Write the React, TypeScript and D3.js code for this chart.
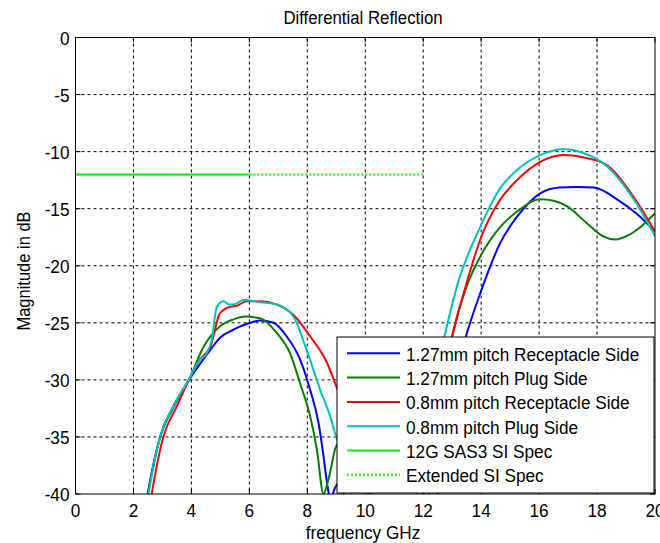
import React from "react";
import * as d3 from "d3";

// [frequency GHz, magnitude dB]
const blueRecep127: [number, number][] = [
  [2.3, -43], [2.49, -40], [2.92, -35], [3.4, -32.3], [3.95, -29.9], [4.53, -27.8], [4.99, -26.3],
  [5.45, -25.6], [6.03, -25.0], [6.37, -24.8], [6.83, -25.0], [7.29, -26.2], [7.75, -28.2], [8.1, -30.9],
  [8.39, -33.8], [8.56, -36.7], [8.68, -39], [8.8, -40.5], [8.95, -39.5], [9.1, -39], [9.25, -40], [9.4, -44],
];
const blueRecep127b: [number, number][] = [
  [12.2, -44], [12.5, -40], [13.0, -31], [13.51, -25.9], [13.97, -22.4], [14.66, -18.0], [15.24, -15.7],
  [16.04, -13.65], [16.7, -13.15], [17.3, -13.1], [17.9, -13.15], [18.7, -14.2], [19.4, -15.5], [20, -17.0],
];
const greenPlug127: [number, number][] = [
  [2.3, -43], [2.5, -40], [2.92, -35], [3.4, -32.2], [3.95, -29.8], [4.42, -27.1], [4.99, -25.3],
  [5.45, -24.7], [5.85, -24.45], [6.37, -24.6], [6.95, -25.9], [7.41, -27.7], [7.75, -30.3], [8.1, -33.2],
  [8.33, -36.1], [8.56, -40], [8.75, -38.5], [9.0, -35.8], [9.4, -35], [9.8, -37], [10.2, -41], [10.4, -44],
];
const greenPlug127b: [number, number][] = [
  [11.9, -44], [12.2, -40], [12.6, -31.5], [13.05, -25.6], [13.5, -21.8], [13.97, -19.2], [14.66, -16.6],
  [15.24, -15.25], [16.04, -14.17], [16.5, -14.3], [16.97, -14.8], [17.66, -16.3], [18.2, -17.4],
  [18.64, -17.7], [19.1, -17.3], [19.5, -16.6], [20, -15.4],
];
const redRecep08: [number, number][] = [
  [2.45, -43], [2.63, -40], [3.03, -35], [3.5, -32.3], [3.95, -29.8], [4.3, -28.2], [4.65, -27.1],
  [4.99, -24.15], [5.34, -23.6], [5.57, -23.5], [5.91, -23.1], [6.37, -23.1], [6.95, -23.4], [7.52, -24.3],
  [8.1, -26.2], [8.68, -28.5], [8.96, -30.3], [9.5, -34], [10, -38.5], [10.3, -41], [10.5, -44],
];
const redRecep08b: [number, number][] = [
  [11.7, -44], [12.0, -40], [12.5, -32], [13.0, -26.2], [13.5, -21.5], [13.97, -17.7], [14.66, -14.2],
  [15.24, -12.5], [16.04, -10.9], [16.85, -10.3], [17.5, -10.5], [18.35, -11.2], [19.27, -14.0], [20, -17.0],
];
const cyanPlug08: [number, number][] = [
  [2.35, -43], [2.52, -40], [2.92, -35], [3.4, -32.2], [3.95, -29.8], [4.3, -28.2], [4.5, -27.8],
  [4.7, -26.5], [4.88, -23.6], [5.1, -23.1], [5.3, -23.4], [5.45, -23.4], [5.8, -23.0], [6.37, -23.2],
  [6.95, -23.4], [7.52, -24.45], [7.98, -27.4], [8.45, -30.9], [8.79, -33.2], [8.96, -34.7], [9.3, -37.5],
  [9.6, -41], [9.8, -44],
];
const cyanPlug08b: [number, number][] = [
  [11.5, -44], [11.76, -40], [12.2, -32.5], [12.76, -25.9], [13.2, -21.5], [13.97, -16.6], [14.66, -13.2],
  [15.24, -11.6], [16.04, -10.3], [16.85, -9.8], [17.5, -10.1], [18.35, -11.3], [19.27, -14.2], [20, -17.4],
];
const sasSpec: [number, number][] = [[0, -12], [6, -12]];
const extSpec: [number, number][] = [[6, -12], [12, -12]];

const xTicks = [0, 2, 4, 6, 8, 10, 12, 14, 16, 18, 20];
const yTicks = [0, -5, -10, -15, -20, -25, -30, -35, -40];

const series = [
  { name: "1.27mm pitch Receptacle Side", color: "#0000ff", parts: [blueRecep127, blueRecep127b], dash: "" },
  { name: "1.27mm pitch Plug Side", color: "#008000", parts: [greenPlug127, greenPlug127b], dash: "" },
  { name: "0.8mm pitch Receptacle Side", color: "#ff0000", parts: [redRecep08, redRecep08b], dash: "" },
  { name: "0.8mm pitch Plug Side", color: "#00bfbf", parts: [cyanPlug08, cyanPlug08b], dash: "" },
  { name: "12G SAS3 SI Spec", color: "#00ff00", parts: [sasSpec], dash: "" },
  { name: "Extended SI Spec", color: "#00ff00", parts: [extSpec], dash: "2,2" },
];

const W = 660, H = 543;
const left = 75.5, right = 655, top = 37.5, bottom = 494;
const font = "Arial, 'Liberation Sans', sans-serif";
const FS = 17.2;
const VS = 1.1; // text looks a bit stretched vertically

// text helper: anchored at (x, y) baseline, slightly stretched vertically
function T({ x, y, anchor = "start", size = FS, rotate = 0, children }:
  { x: number; y: number; anchor?: string; size?: number; rotate?: number; children: React.ReactNode }) {
  return (
    <text transform={`translate(${x},${y}) rotate(${rotate}) scale(1,${VS})`} fontSize={size}
      textAnchor={anchor as any} fill="#000">{children}</text>
  );
}

export default function App() {
  const x = d3.scaleLinear().domain([0, 20]).range([left, right]);
  const y = d3.scaleLinear().domain([-40, 0]).range([bottom, top]);
  const line = d3.line<[number, number]>().x(d => x(d[0])).y(d => y(d[1])).curve(d3.curveMonotoneX);

  const lg = { x0: 337, y0: 337, x1: 654, y1: 493, row0: 353.3, step: 24.3 };

  return (
    <svg width={W} height={H} style={{ position: "absolute", left: 0, top: 0, background: "#fff" }} fontFamily={font}>
      <defs>
        <clipPath id="plotClip">
          <rect x={left} y={top} width={right - left} height={bottom - top} />
        </clipPath>
      </defs>
      <rect x={0} y={0} width={W} height={H} fill="#fff" />
      {/* grid */}
      {xTicks.slice(1, -1).map(t => (
        <line key={"gx" + t} x1={x(t)} x2={x(t)} y1={top} y2={bottom} stroke="#000" strokeDasharray="3,3" strokeWidth={1} />
      ))}
      {yTicks.slice(1, -1).map(t => (
        <line key={"gy" + t} x1={left} x2={right} y1={y(t)} y2={y(t)} stroke="#000" strokeDasharray="3,3" strokeWidth={1} />
      ))}
      {/* curves */}
      <g clipPath="url(#plotClip)">
        {series.map(s =>
          s.parts.map((p, i) => (
            <path key={s.name + i} d={line(p) || ""} fill="none" stroke={s.color} strokeWidth={2}
              strokeDasharray={s.dash || undefined} />
          ))
        )}
      </g>
      {/* box + ticks */}
      <rect x={left} y={top} width={right - left} height={bottom - top} fill="none" stroke="#000" strokeWidth={1} />
      {xTicks.map(t => (
        <g key={"tx" + t}>
          <line x1={x(t)} x2={x(t)} y1={bottom} y2={bottom - 5} stroke="#000" />
          <line x1={x(t)} x2={x(t)} y1={top} y2={top + 5} stroke="#000" />
          <T x={x(t)} y={517} anchor="middle">{t}</T>
        </g>
      ))}
      {yTicks.map(t => (
        <g key={"ty" + t}>
          <line x1={left} x2={left + 5} y1={y(t)} y2={y(t)} stroke="#000" />
          <line x1={right} x2={right - 5} y1={y(t)} y2={y(t)} stroke="#000" />
          <T x={left - 6} y={y(t) + 7} anchor="end">{t}</T>
        </g>
      ))}
      {/* labels */}
      <T x={363} y={24} anchor="middle" size={16.8}>Differential Reflection</T>
      <T x={363} y={539} anchor="middle">frequency GHz</T>
      <T x={30} y={271} anchor="middle" size={16.5} rotate={-90}>Magnitude in dB</T>
      {/* legend */}
      <rect x={lg.x0} y={lg.y0} width={lg.x1 - lg.x0} height={lg.y1 - lg.y0} fill="#fff" stroke="#000" strokeWidth={1} />
      {series.map((s, i) => {
        const ry = lg.row0 + i * lg.step;
        return (
          <g key={"lg" + i}>
            <line x1={347} x2={400} y1={ry} y2={ry} stroke={s.color} strokeWidth={2} strokeDasharray={s.dash || undefined} />
            <T x={406} y={ry + 7.5}>{s.name}</T>
          </g>
        );
      })}
    </svg>
  );
}
